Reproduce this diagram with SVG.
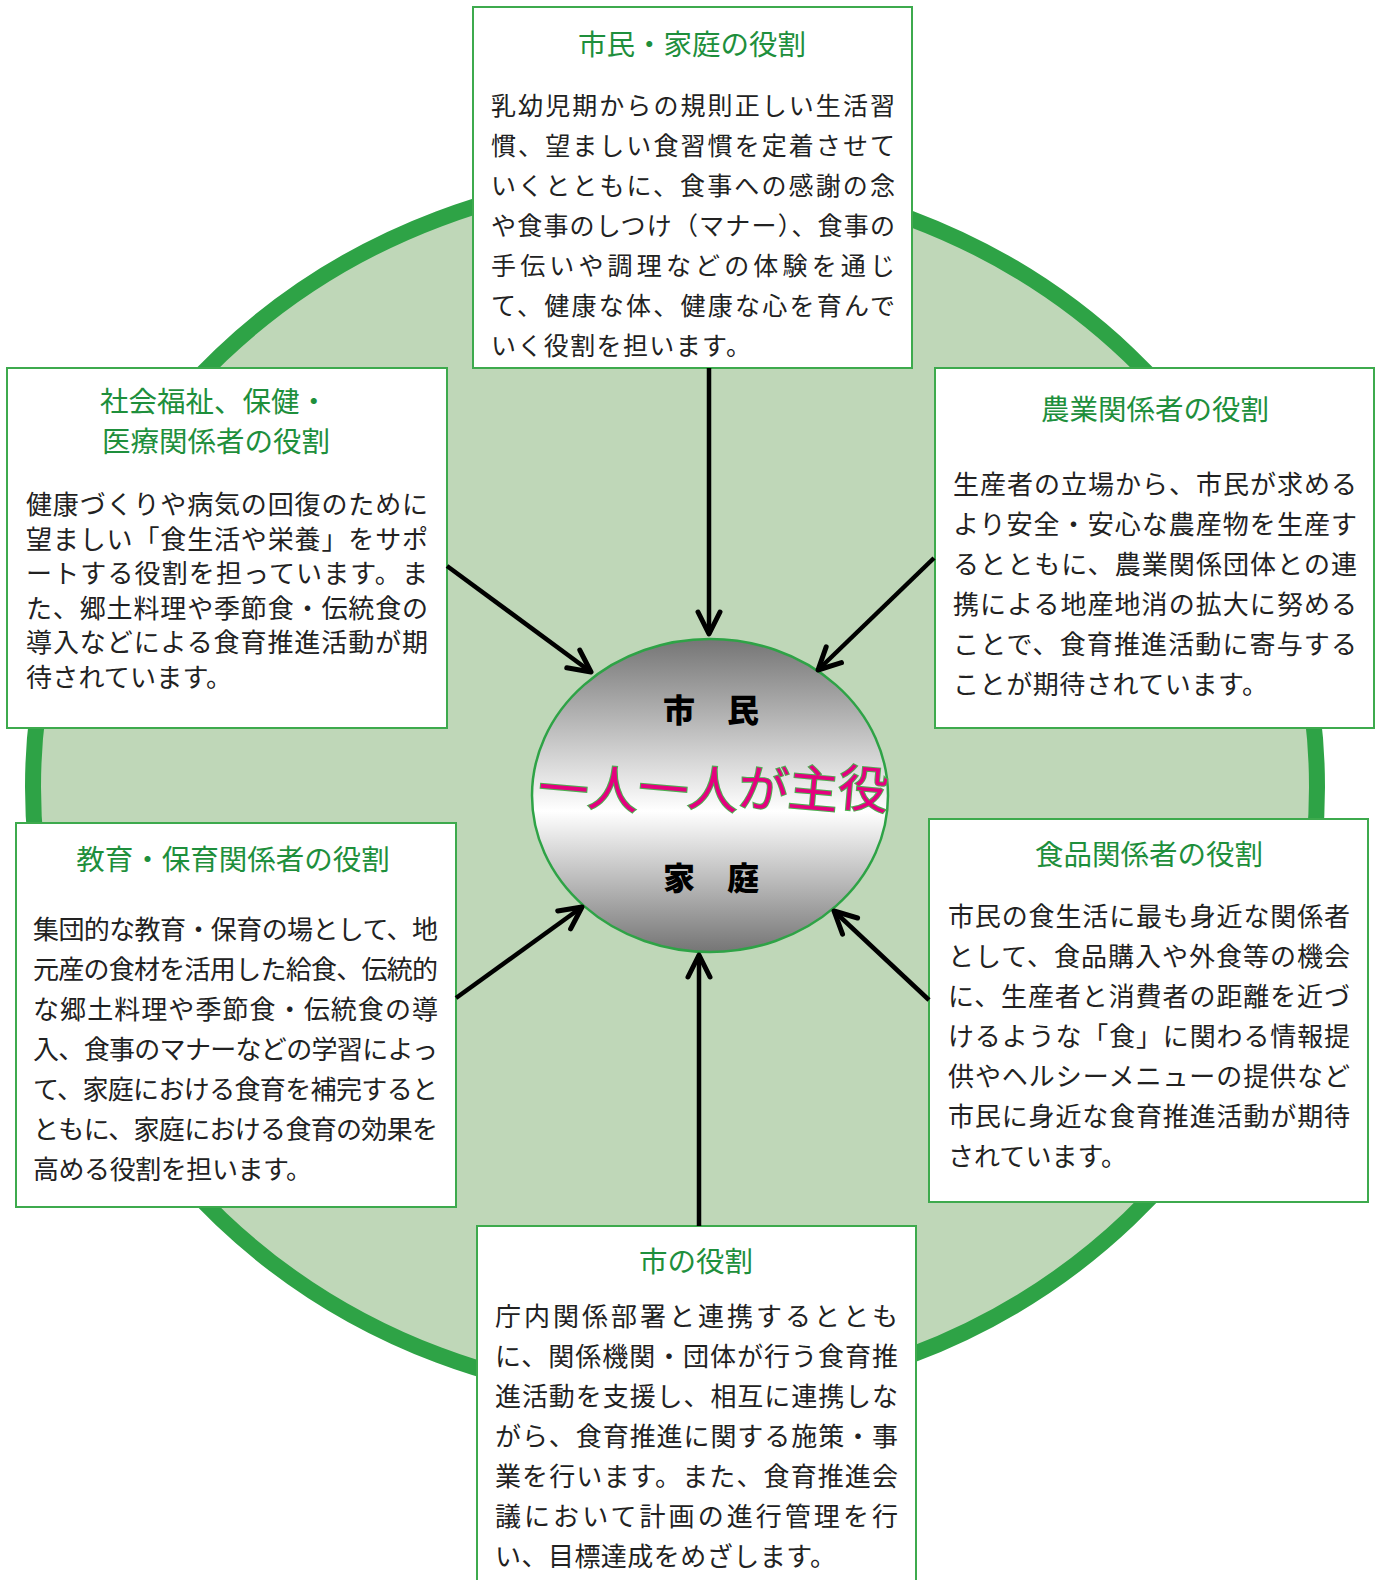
<svg xmlns="http://www.w3.org/2000/svg" width="1380" height="1580" viewBox="0 0 1380 1580">
<defs>
<style>
.box{fill:#fff;stroke:#3DAA4D;stroke-width:2}
.ttl{font-family:"Noto Sans CJK JP","Noto Sans",sans-serif;font-size:28.5px;fill:#1E8F3C;text-anchor:middle}
.bd{font-family:"Noto Sans CJK JP","Noto Sans",sans-serif;font-size:26px;fill:#222}
.bd24{font-family:"Noto Sans CJK JP","Noto Sans",sans-serif;font-size:25px;fill:#222}
.ctr{font-family:"Noto Sans CJK JP","Noto Sans",sans-serif;font-size:32px;font-weight:900;fill:#000;text-anchor:middle}
.big{font-family:"Noto Sans CJK JP","Noto Sans",sans-serif;font-size:50px;fill:#E4007F;stroke:#4CAF50;stroke-width:2;paint-order:stroke;text-anchor:middle}
.arr{stroke:#000;stroke-width:4.5;fill:none;marker-end:url(#ah)}
</style>
<linearGradient id="cg" x1="0" y1="0" x2="0" y2="1">
<stop offset="0" stop-color="#757575"/>
<stop offset="0.55" stop-color="#ffffff"/>
<stop offset="1" stop-color="#757575"/>
</linearGradient>
<marker id="ah" markerUnits="userSpaceOnUse" markerWidth="40" markerHeight="40" viewBox="-30 -20 40 40" refX="0" refY="0" orient="auto" overflow="visible">
<path d="M-22,-11 L0,0 L-22,11" fill="none" stroke="#000" stroke-width="5" stroke-linecap="round" stroke-linejoin="round"/>
</marker>
</defs>
<g id="background">
<ellipse cx="675" cy="787" rx="642" ry="611" fill="#BFD7B8" stroke="#2EA346" stroke-width="16"/>
</g>
<g id="node-household">
<rect class="box" x="473" y="7" width="439" height="361"/>
<text class="ttl" x="692" y="55">市民・家庭の役割</text>
<text class="bd24" x="491" y="115" textLength="404" lengthAdjust="spacing">乳幼児期からの規則正しい生活習</text>
<text class="bd24" x="491" y="155" textLength="404" lengthAdjust="spacing">慣、望ましい食習慣を定着させて</text>
<text class="bd24" x="491" y="195" textLength="404" lengthAdjust="spacing">いくとともに、食事への感謝の念</text>
<text class="bd24" x="491" y="235" textLength="404" lengthAdjust="spacing">や食事のしつけ（マナー）、食事の</text>
<text class="bd24" x="491" y="275" textLength="404" lengthAdjust="spacing">手伝いや調理などの体験を通じ</text>
<text class="bd24" x="491" y="315" textLength="404" lengthAdjust="spacing">て、健康な体、健康な心を育んで</text>
<text class="bd24" x="491" y="355" textLength="260" lengthAdjust="spacing">いく役割を担います。</text>
</g>
<g id="node-welfare">
<rect class="box" x="7" y="368" width="440" height="360"/>
<text class="ttl" x="214" y="412">社会福祉、保健・</text>
<text class="ttl" x="216" y="452">医療関係者の役割</text>
<text class="bd" x="26" y="514" textLength="402" lengthAdjust="spacing">健康づくりや病気の回復のために</text>
<text class="bd" x="26" y="549" textLength="402" lengthAdjust="spacing">望ましい「食生活や栄養」をサポ</text>
<text class="bd" x="26" y="583" textLength="402" lengthAdjust="spacing">ートする役割を担っています。ま</text>
<text class="bd" x="26" y="618" textLength="402" lengthAdjust="spacing">た、郷土料理や季節食・伝統食の</text>
<text class="bd" x="26" y="652" textLength="402" lengthAdjust="spacing">導入などによる食育推進活動が期</text>
<text class="bd" x="26" y="687" textLength="206" lengthAdjust="spacing">待されています。</text>
</g>
<g id="node-agriculture">
<rect class="box" x="935" y="368" width="439" height="360"/>
<text class="ttl" x="1155" y="420">農業関係者の役割</text>
<text class="bd" x="953" y="494" textLength="404" lengthAdjust="spacing">生産者の立場から、市民が求める</text>
<text class="bd" x="953" y="534" textLength="404" lengthAdjust="spacing">より安全・安心な農産物を生産す</text>
<text class="bd" x="953" y="574" textLength="404" lengthAdjust="spacing">るとともに、農業関係団体との連</text>
<text class="bd" x="953" y="614" textLength="404" lengthAdjust="spacing">携による地産地消の拡大に努める</text>
<text class="bd" x="953" y="654" textLength="404" lengthAdjust="spacing">ことで、食育推進活動に寄与する</text>
<text class="bd" x="953" y="694" textLength="315" lengthAdjust="spacing">ことが期待されています。</text>
</g>
<g id="node-education">
<rect class="box" x="16" y="823" width="440" height="384"/>
<text class="ttl" x="233" y="870">教育・保育関係者の役割</text>
<text class="bd" x="33" y="939" textLength="405" lengthAdjust="spacing">集団的な教育・保育の場として、地</text>
<text class="bd" x="33" y="979" textLength="405" lengthAdjust="spacing">元産の食材を活用した給食、伝統的</text>
<text class="bd" x="33" y="1019" textLength="405" lengthAdjust="spacing">な郷土料理や季節食・伝統食の導</text>
<text class="bd" x="33" y="1059" textLength="405" lengthAdjust="spacing">入、食事のマナーなどの学習によっ</text>
<text class="bd" x="33" y="1099" textLength="405" lengthAdjust="spacing">て、家庭における食育を補完すると</text>
<text class="bd" x="33" y="1139" textLength="405" lengthAdjust="spacing">ともに、家庭における食育の効果を</text>
<text class="bd" x="33" y="1179" textLength="279" lengthAdjust="spacing">高める役割を担います。</text>
</g>
<g id="node-food">
<rect class="box" x="929" y="819" width="439" height="383"/>
<text class="ttl" x="1149" y="865">食品関係者の役割</text>
<text class="bd" x="948" y="926" textLength="402" lengthAdjust="spacing">市民の食生活に最も身近な関係者</text>
<text class="bd" x="948" y="966" textLength="402" lengthAdjust="spacing">として、食品購入や外食等の機会</text>
<text class="bd" x="948" y="1006" textLength="402" lengthAdjust="spacing">に、生産者と消費者の距離を近づ</text>
<text class="bd" x="948" y="1046" textLength="402" lengthAdjust="spacing">けるような「食」に関わる情報提</text>
<text class="bd" x="948" y="1086" textLength="402" lengthAdjust="spacing">供やヘルシーメニューの提供など</text>
<text class="bd" x="948" y="1126" textLength="402" lengthAdjust="spacing">市民に身近な食育推進活動が期待</text>
<text class="bd" x="948" y="1166" textLength="179" lengthAdjust="spacing">されています。</text>
</g>
<g id="node-city">
<rect class="box" x="477" y="1226" width="439" height="370"/>
<text class="ttl" x="696" y="1272">市の役割</text>
<text class="bd" x="495" y="1326" textLength="403" lengthAdjust="spacing">庁内関係部署と連携するととも</text>
<text class="bd" x="495" y="1366" textLength="403" lengthAdjust="spacing">に、関係機関・団体が行う食育推</text>
<text class="bd" x="495" y="1406" textLength="403" lengthAdjust="spacing">進活動を支援し、相互に連携しな</text>
<text class="bd" x="495" y="1446" textLength="403" lengthAdjust="spacing">がら、食育推進に関する施策・事</text>
<text class="bd" x="495" y="1486" textLength="403" lengthAdjust="spacing">業を行います。また、食育推進会</text>
<text class="bd" x="495" y="1526" textLength="403" lengthAdjust="spacing">議において計画の進行管理を行</text>
<text class="bd" x="495" y="1566" textLength="341" lengthAdjust="spacing">い、目標達成をめざします。</text>
</g>
<g id="node-center">
<ellipse cx="710" cy="795.5" rx="178" ry="156.5" fill="url(#cg)" stroke="#2EA346" stroke-width="2.5"/>
<text class="ctr" x="711" y="722">市　民</text>
<text class="ctr" x="711" y="890">家　庭</text>
<text class="big" x="712" y="805" rotate="5">一人一人が主役</text>
</g>
<g id="connectors">
<line class="arr" x1="709" y1="368" x2="709" y2="634"/>
<line class="arr" x1="447" y1="566" x2="591" y2="672"/>
<line class="arr" x1="934" y1="558" x2="818" y2="670"/>
<line class="arr" x1="456" y1="998" x2="582" y2="907"/>
<line class="arr" x1="929" y1="1000" x2="834" y2="911"/>
<line class="arr" x1="699" y1="1226" x2="699" y2="955"/>
</g>
</svg>
